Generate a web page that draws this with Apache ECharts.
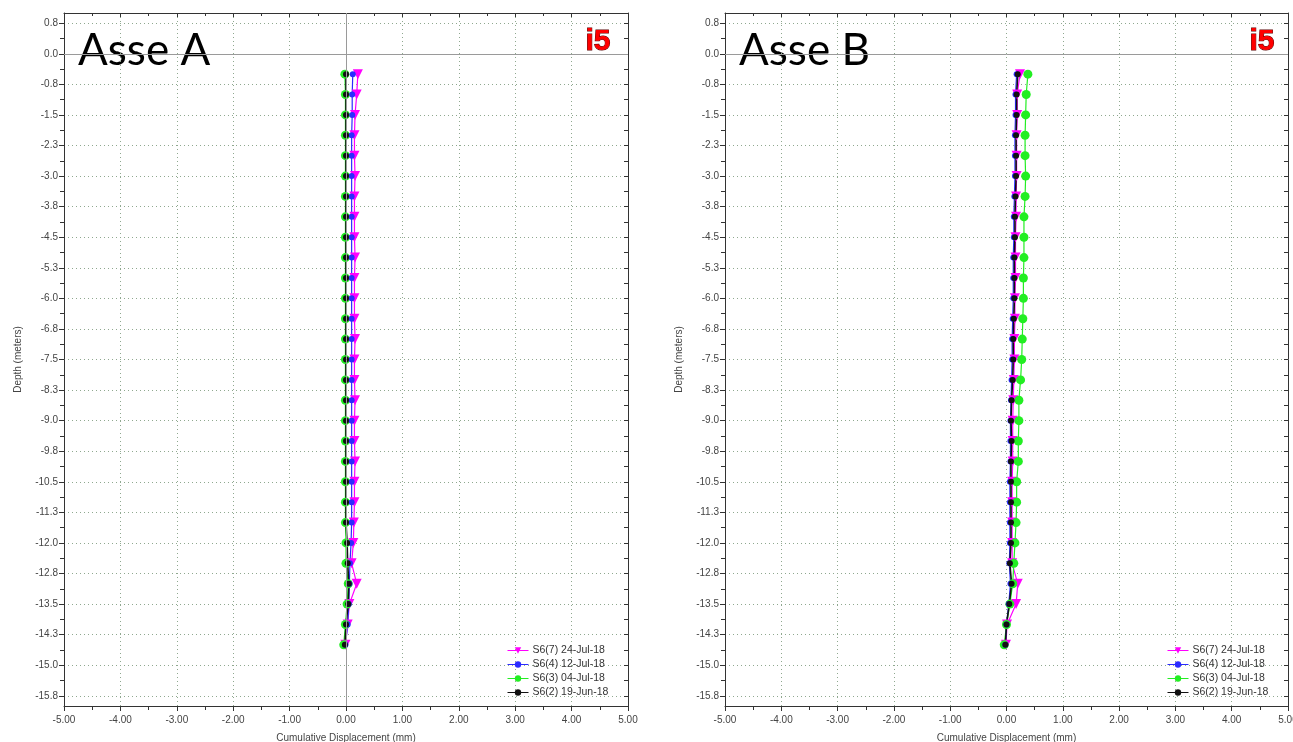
<!DOCTYPE html>
<html>
<head>
<meta charset="utf-8">
<script src="https://cdn.jsdelivr.net/npm/echarts@6/dist/echarts.min.js"></script>
<style>
html, body { margin: 0; padding: 0; background: #fff; }
#chart { width: 1293px; height: 742px; }
</style>
</head>
<body>
<div id="chart"></div>
<script>
// depth of each reading (m)
var depths = [-0.5, -1.0, -1.5, -2.0, -2.5, -3.0, -3.5, -4.0, -4.5, -5.0, -5.5, -6.0, -6.5, -7.0, -7.5,
	-8.0, -8.5, -9.0, -9.5, -10.0, -10.5, -11.0, -11.5, -12.0, -12.5, -13.0, -13.5, -14.0, -14.5];

var seriesNames = ['S6(7) 24-Jul-18', 'S6(4) 12-Jul-18', 'S6(3) 04-Jul-18', 'S6(2) 19-Jun-18'];

// Asse A, cumulative displacement (mm)
var asseA_s67 = [0.21, 0.19, 0.16, 0.15, 0.15, 0.16, 0.15, 0.15, 0.15, 0.16, 0.15, 0.15, 0.15, 0.16, 0.15,
	0.15, 0.16, 0.15, 0.15, 0.16, 0.15, 0.15, 0.14, 0.13, 0.10, 0.19, 0.06, 0.03, -0.01];
var asseA_s64 = [0.12, 0.11, 0.11, 0.10, 0.10, 0.10, 0.10, 0.10, 0.10, 0.10, 0.10, 0.10, 0.10, 0.10, 0.10,
	0.10, 0.10, 0.10, 0.10, 0.10, 0.10, 0.10, 0.10, 0.09, 0.07, 0.06, 0.05, 0.03, -0.01];
var asseA_s63 = [-0.02, -0.01, -0.01, -0.01, -0.01, -0.01, -0.01, -0.01, -0.01, -0.01, -0.01, -0.01, -0.01, -0.01, -0.01,
	-0.01, -0.01, -0.01, -0.01, -0.01, -0.01, -0.01, -0.01, 0.00, 0.00, 0.04, 0.02, -0.01, -0.04];
var asseA_s62 = [0.00, 0.00, 0.00, 0.00, 0.00, 0.00, 0.00, 0.00, 0.00, 0.00, 0.00, 0.00, 0.00, 0.00, 0.00,
	0.00, 0.00, 0.00, 0.00, 0.00, 0.00, 0.00, 0.00, 0.02, 0.03, 0.05, 0.04, 0.00, -0.02];

// Asse B, cumulative displacement (mm)
var asseB_s67 = [0.24, 0.19, 0.19, 0.18, 0.18, 0.18, 0.17, 0.17, 0.16, 0.16, 0.16, 0.15, 0.15, 0.14, 0.14,
	0.13, 0.12, 0.11, 0.11, 0.11, 0.10, 0.10, 0.10, 0.10, 0.10, 0.20, 0.17, 0.01, -0.01];
var asseB_s64 = [0.18, 0.16, 0.16, 0.15, 0.15, 0.15, 0.14, 0.13, 0.13, 0.12, 0.12, 0.12, 0.11, 0.10, 0.10,
	0.09, 0.08, 0.07, 0.07, 0.07, 0.06, 0.06, 0.06, 0.06, 0.05, 0.07, 0.04, 0.00, -0.02];
var asseB_s63 = [0.38, 0.35, 0.34, 0.33, 0.33, 0.34, 0.33, 0.31, 0.31, 0.31, 0.30, 0.30, 0.29, 0.28, 0.27,
	0.25, 0.22, 0.22, 0.21, 0.21, 0.18, 0.18, 0.17, 0.15, 0.13, 0.11, 0.06, 0.00, -0.04];
var asseB_s62 = [0.20, 0.18, 0.18, 0.17, 0.17, 0.17, 0.16, 0.15, 0.15, 0.14, 0.14, 0.14, 0.13, 0.12, 0.12,
	0.11, 0.09, 0.08, 0.09, 0.08, 0.08, 0.08, 0.08, 0.08, 0.06, 0.09, 0.05, 0.00, -0.02];

// depth axis ticks
var yTickValues = [0.75, 0, -0.75, -1.5, -2.25, -3.0, -3.75, -4.5, -5.25, -6.0, -6.75, -7.5, -8.25, -9.0,
	-9.75, -10.5, -11.25, -12.0, -12.75, -13.5, -14.25, -15.0, -15.75];
var yTickLabels = ['0.8', '0.0', '-0.8', '-1.5', '-2.3', '-3.0', '-3.8', '-4.5', '-5.3', '-6.0', '-6.8', '-7.5',
	'-8.3', '-9.0', '-9.8', '-10.5', '-11.3', '-12.0', '-12.8', '-13.5', '-14.3', '-15.0', '-15.8'];

var yMinorValues = [];
for (var k = 0; k < yTickValues.length - 1; k++) {
	yMinorValues.push((yTickValues[k] + yTickValues[k + 1]) / 2);
}
var yAllTicks = yTickValues.concat(yMinorValues);

var colors = ['#ff00ff', '#2b2bff', '#22ee22', '#111111'];
var symbols = ['triangle', 'circle', 'circle', 'circle'];
var symbolSizes = [10, 6, 9, 6];
var symbolRotates = [180, 0, 0, 0];
var font = 'Liberation Sans, Arial, sans-serif';
var gridLine = { show: true, lineStyle: { color: '#8fa88f', type: [1, 3], width: 1 } };

var grids = [
	{ left: 64, top: 13, width: 564, height: 693, outerBoundsMode: 'none' },
	{ left: 725, top: 13, width: 563, height: 693, outerBoundsMode: 'none' }
];

var xAxes = [];
var yAxes = [];
var series = [];
var legends = [];

function pairs(vals) {
	var out = [];
	for (var i = 0; i < depths.length; i++) out.push([vals[i], depths[i]]);
	return out;
}

function addPanel(gi, panelData, zeroLines) {
	var xi = xAxes.length;
	xAxes.push({
		type: 'value', gridIndex: gi, position: 'bottom', min: -5, max: 5, interval: 1,
		name: 'Cumulative Displacement (mm)', nameLocation: 'middle', nameGap: 27,
		nameTextStyle: { fontFamily: font, fontSize: 10, color: '#444' },
		axisLine: { show: true, onZero: false, lineStyle: { color: '#333', width: 1 } },
		axisTick: { show: true, length: 5, lineStyle: { color: '#333' } },
		minorTick: { show: true, splitNumber: 2, length: 4, lineStyle: { color: '#333' } },
		axisLabel: { fontFamily: font, fontSize: 10, color: '#444', margin: 9,
			formatter: function (v) { return v.toFixed(2); } },
		splitLine: gridLine
	});
	xAxes.push({
		type: 'value', gridIndex: gi, position: 'top', min: -5, max: 5, interval: 1,
		axisLine: { show: true, onZero: false, lineStyle: { color: '#333', width: 1 } },
		axisTick: { show: true, inside: true, length: 4, lineStyle: { color: '#333' } },
		minorTick: { show: true, splitNumber: 2, length: 3, lineStyle: { color: '#333' } },
		axisLabel: { show: false }, splitLine: { show: false }
	});
	var yi = yAxes.length;
	yAxes.push({
		type: 'value', gridIndex: gi, position: 'left', min: -16, max: 1,
		name: 'Depth (meters)', nameLocation: 'middle', nameGap: 41,
		nameTextStyle: { fontFamily: font, fontSize: 10, color: '#444' },
		axisLine: { show: true, onZero: false, lineStyle: { color: '#333', width: 1 } },
		axisTick: { show: true, length: 5, customValues: yTickValues, lineStyle: { color: '#333' } },
		axisLabel: { fontFamily: font, fontSize: 10, color: '#444', margin: 6, customValues: yTickValues,
			formatter: function (v) {
				var idx = yTickValues.indexOf(v);
				return idx >= 0 ? yTickLabels[idx] : '';
			} },
		splitLine: gridLine
	});
	yAxes.push({
		type: 'value', gridIndex: gi, position: 'left', min: -16, max: 1,
		axisLine: { show: false, onZero: false },
		axisTick: { show: true, length: 4, customValues: yMinorValues, lineStyle: { color: '#333' } },
		axisLabel: { show: false }, splitLine: { show: false }
	});
	yAxes.push({
		type: 'value', gridIndex: gi, position: 'right', min: -16, max: 1,
		axisLine: { show: true, onZero: false, lineStyle: { color: '#333', width: 1 } },
		axisTick: { show: true, inside: true, length: 4, customValues: yAllTicks, lineStyle: { color: '#333' } },
		axisLabel: { show: false }, splitLine: { show: false }
	});

	// draw order: magenta, green, blue, black on top
	var order = [0, 2, 1, 3];
	order.forEach(function (s) {
		series.push({
			name: seriesNames[s], type: 'line', xAxisIndex: xi, yAxisIndex: yi,
			data: pairs(panelData[s]),
			symbol: symbols[s], symbolSize: symbolSizes[s], symbolRotate: symbolRotates[s],
			showAllSymbol: true,
			lineStyle: { color: colors[s], width: s === 3 ? 1.6 : 1.2 },
			itemStyle: { color: colors[s] },
			emphasis: { disabled: true },
			animation: false, z: 3
		});
	});
	// solid zero reference lines
	series[series.length - 1].markLine = {
		silent: true, symbol: 'none', label: { show: false }, animation: false,
		lineStyle: { color: '#9a9a9a', type: 'solid', width: 1 },
		data: zeroLines
	};
}

addPanel(0, [asseA_s67, asseA_s64, asseA_s63, asseA_s62], [{ xAxis: 0 }, { yAxis: 0 }]);
addPanel(1, [asseB_s67, asseB_s64, asseB_s63, asseB_s62], [{ yAxis: 0 }]);

[507, 1167].forEach(function (lx) {
	legends.push({
		left: lx, top: 645, padding: 0, orient: 'vertical', itemGap: 3, itemWidth: 21, itemHeight: 8,
		data: seriesNames, selectedMode: false,
		itemStyle: { borderWidth: 0 }, lineStyle: { width: 1 },
		textStyle: { fontFamily: font, fontSize: 10.5, color: '#333', padding: [0, 0, 0, -1] }
	});
});

var chart = echarts.init(document.getElementById('chart'));
chart.setOption({
	backgroundColor: '#fff',
	animation: false,
	grid: grids,
	xAxis: xAxes,
	yAxis: yAxes,
	legend: legends,
	series: series,
	graphic: [
		{ type: 'text', left: 78, top: 29, style: { text: 'Asse A', fontFamily: 'Lato, Open Sans, sans-serif', fontSize: 44, fill: '#000' } },
		{ type: 'text', left: 739, top: 29, style: { text: 'Asse B', fontFamily: 'Lato, Open Sans, sans-serif', fontSize: 44, fill: '#000' } },
		{ type: 'text', left: 585, top: 26, style: { text: 'i5', fontFamily: font, fontWeight: 'bold', fontSize: 30, fill: '#ff0000', stroke: '#500', lineWidth: 1 } },
		{ type: 'text', left: 1249, top: 26, style: { text: 'i5', fontFamily: font, fontWeight: 'bold', fontSize: 30, fill: '#ff0000', stroke: '#500', lineWidth: 1 } }
	]
});
</script>
</body>
</html>
